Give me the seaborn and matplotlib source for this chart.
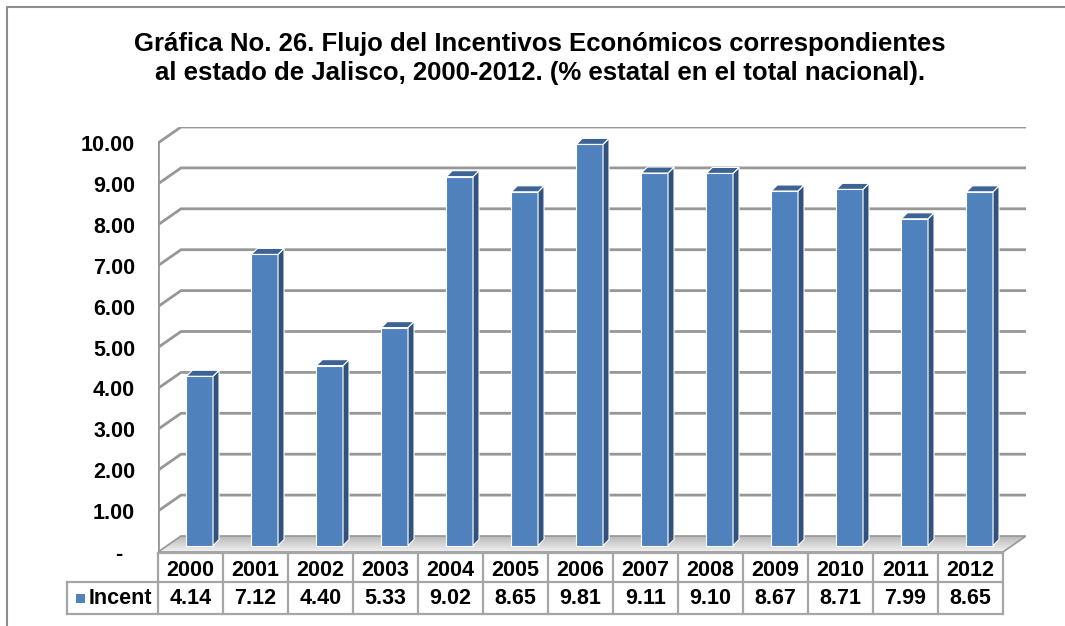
import numpy as np
import matplotlib
matplotlib.use("Agg")
import matplotlib.pyplot as plt
from matplotlib.patches import Polygon, Rectangle
import seaborn as sns
import pandas as pd

# ---------------- data ----------------
years = ["2000", "2001", "2002", "2003", "2004", "2005", "2006",
         "2007", "2008", "2009", "2010", "2011", "2012"]
incent = [4.14, 7.12, 4.40, 5.33, 9.02, 8.65, 9.81, 9.11, 9.10, 8.67, 8.71, 7.99, 8.65]
series_name = "Incent"
y_ticks = [0, 1, 2, 3, 4, 5, 6, 7, 8, 9, 10]
y_tick_labels = ["-  ", "1.00", "2.00", "3.00", "4.00", "5.00", "6.00",
                 "7.00", "8.00", "9.00", "10.00"]
title_1 = "Gráfica No. 26. Flujo del Incentivos Económicos correspondientes"
title_2 = "al estado de Jalisco, 2000-2012. (% estatal en el total nacional)."

# ---------------- style ----------------
sns.set_theme(style="white")
plt.rcParams["font.family"] = ["Liberation Sans", "DejaVu Sans"]
plt.rcParams["font.weight"] = "bold"

W, H = 1065, 626
fig = plt.figure(figsize=(W / 100, H / 100), dpi=100)
fig.patch.set_facecolor("white")

FRONT = "#4F81BD"
SIDE = "#31527c"
TOP = "#3c6393"
GRID = "#979797"
TABLE_LINE = "#a6a6a6"
FS = 15.5

# 3-D projection helpers (in category / value units)
DX = 23 / 65.0      # full depth shift in x (category units)
DY = 16 / 40.9      # full depth shift in y (value units)
F = 0.4             # bars sit at this depth fraction
BDX, BDY = 6 / 65.0, 6 / 40.9   # bar's own depth

n = len(years)
xl = -0.5 - F * DX
xr = n - 0.5 + (1 - F) * DX
yb = -F * DY
yt = 10 + (1 - F) * DY

ax = fig.add_axes([158 / W, (H - 552) / H, (1026 - 158) / W, (552 - 127) / H])
ax.set_facecolor("none")

df = pd.DataFrame({"year": years, "value": incent})
sns.barplot(data=df, x="year", y="value", color=FRONT, saturation=1,
            width=0.41, edgecolor="white", linewidth=0.8, ax=ax, zorder=4)

ax.set_xlim(xl, xr)
ax.set_ylim(yb, yt)
for s in ax.spines.values():
    s.set_visible(False)
ax.set_xticks([])
ax.set_xlabel("")
ax.set_ylabel("")

# side & top faces of bars, built from the seaborn bars
for p in ax.patches[:]:
    x0 = p.get_x()
    w = p.get_width()
    h = p.get_height()
    x1 = x0 + w
    side = Polygon([(x1, 0), (x1, h), (x1 + BDX, h + BDY), (x1 + BDX, BDY)],
                   closed=True, facecolor=SIDE, edgecolor="white", lw=0.8, zorder=4)
    top = Polygon([(x0, h), (x1, h), (x1 + BDX, h + BDY), (x0 + BDX, h + BDY)],
                  closed=True, facecolor=TOP, edgecolor="white", lw=0.8, zorder=4)
    ax.add_patch(side)
    ax.add_patch(top)

# back wall gridlines + left wall diagonals
bxl = -0.5 + (1 - F) * DX
for v in y_ticks:
    fy = v - F * DY
    by = v + (1 - F) * DY
    if v > 0:
        ax.plot([xl, bxl, xr], [fy, by, by], color=GRID, lw=2.0,
                solid_capstyle="butt", zorder=1)
# front vertical axis line
ax.plot([xl, xl], [yb, 10 - F * DY], color=GRID, lw=2.0, zorder=1)

# floor with gradient
fxl, fxr = xl, n - 0.5 - F * DX
floor_poly = [(fxl, yb), (fxr, yb), (xr, (1 - F) * DY), (bxl, (1 - F) * DY)]
floor = Polygon(floor_poly, closed=True, facecolor="none", edgecolor=GRID, lw=1.2, zorder=2)
ax.add_patch(floor)
grad = np.linspace(0, 1, 64).reshape(-1, 1)
cmap = matplotlib.colors.LinearSegmentedColormap.from_list("fl", ["#f2f2f2", "#b8b8b8"])
im = ax.imshow(grad, extent=[fxl, xr, yb, (1 - F) * DY], origin="lower",
               cmap=cmap, aspect="auto", zorder=1.5, interpolation="bilinear")
im.set_clip_path(Polygon(floor_poly, closed=True, transform=ax.transData))
ax.set_xlim(xl, xr)
ax.set_ylim(yb, yt)

# y tick labels on the front wall
ax.set_yticks([v - F * DY for v in y_ticks])
ax.set_yticklabels(y_tick_labels, fontsize=FS, fontweight="bold", color="black")
ax.tick_params(axis="y", length=0, pad=16.5)

# ---------------- data table ----------------
inv = ax.transData.inverted()


def py2y(py):
    return inv.transform((500, H - py))[1]


def px2x(px):
    return inv.transform((px, 300))[0]


r0, r1, r2 = py2y(553), py2y(582), py2y(614)
col_edges = [i - 0.5 - F * DX for i in range(n + 1)]
left_cell = px2x(67)
lk = dict(color=TABLE_LINE, lw=1.6, clip_on=False, zorder=5, solid_capstyle="projecting")
ax.plot([col_edges[0], col_edges[-1]], [r0, r0], **lk)
ax.plot([left_cell, col_edges[-1]], [r1, r1], **lk)
ax.plot([left_cell, col_edges[-1]], [r2, r2], **lk)
ax.plot([left_cell, left_cell], [r1, r2], **lk)
for e in col_edges:
    ax.plot([e, e], [r0, r2], **lk)

for i, (yr, v) in enumerate(zip(years, incent)):
    cx = i - F * DX
    ax.text(cx, py2y(570), yr, ha="center", va="center", fontsize=FS,
            fontweight="bold", color="black", clip_on=False)
    ax.text(cx, py2y(599), f"{v:.2f}", ha="center", va="center", fontsize=FS,
            fontweight="bold", color="black", clip_on=False)

# legend key inside left cell
kx0, kx1 = px2x(76), px2x(85)
ky0, ky1 = py2y(603), py2y(594)
ax.add_patch(Rectangle((kx0, ky0), kx1 - kx0, ky1 - ky0, facecolor=FRONT,
                       edgecolor="none", clip_on=False, zorder=5))
ax.text(px2x(89), py2y(599), series_name, ha="left", va="center", fontsize=FS,
        fontweight="bold", color="black", clip_on=False)

# ---------------- title ----------------
fig.text(540 / W, 1 - 51 / H, title_1, ha="center", va="baseline", fontsize=18.5,
         fontweight="bold", color="black")
fig.text(540 / W, 1 - 80 / H, title_2, ha="center", va="baseline", fontsize=18.5,
         fontweight="bold", color="black")

# chart frame (top & left)
fig.add_artist(matplotlib.lines.Line2D([7 / W, 7 / W, 1], [0, 1 - 7 / H, 1 - 7 / H],
                                       transform=fig.transFigure, color="#8c8c8c", lw=1.5))

fig.savefig("out.png", dpi=100, facecolor="white")
